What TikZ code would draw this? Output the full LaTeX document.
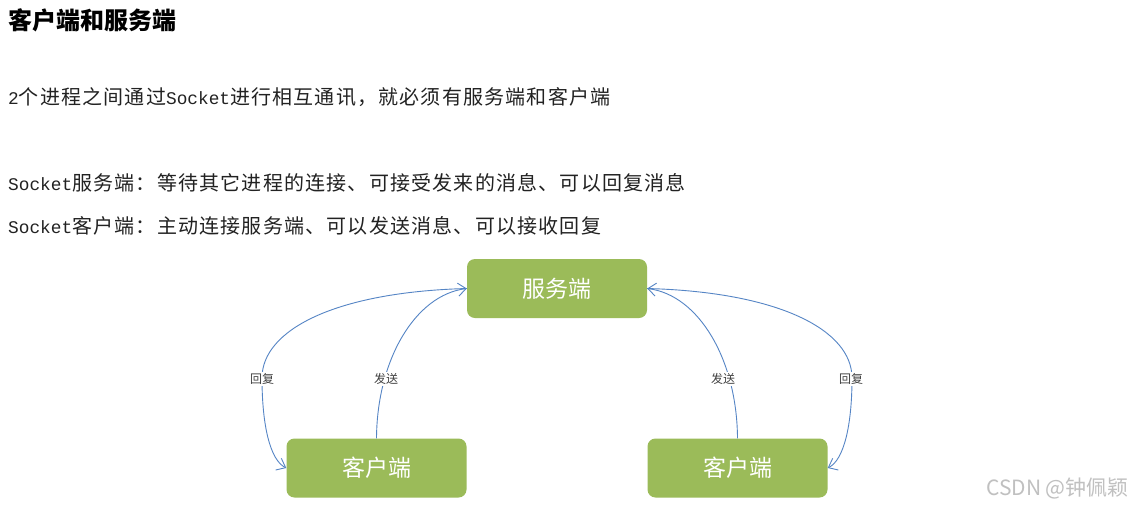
\documentclass[tikz,border=0pt]{standalone}
\usepackage{fontspec}
\usetikzlibrary{arrows.meta}
\setmainfont{Noto Sans CJK SC}
\newfontfamily\cj[LetterSpace=6]{Noto Sans CJK SC}
\newfontfamily\cjplain{Noto Sans CJK SC}
\newfontfamily\mo[Scale=0.89]{Liberation Mono}
\definecolor{boxgreen}{HTML}{9BBB59}
\definecolor{lineblue}{HTML}{5585C5}
\definecolor{labelgray}{HTML}{404040}
\definecolor{bodytext}{HTML}{222222}
\definecolor{wmgray}{HTML}{C0C0C0}
\tikzset{
  box/.style={draw=none, fill=boxgreen, rounded corners=8pt, minimum width=180pt, minimum height=59pt,
    text=white, font=\cjplain\fontsize{23}{26}\selectfont, inner sep=0pt},
  conn/.style={draw=lineblue, line width=0.9pt},
  arr/.style={conn, -{Straight Barb[length=8pt,width=13pt]}},
  lbl/.style={fill=white, text=labelgray, font=\cjplain\fontsize{12}{13}\selectfont, inner sep=1pt},
  bodyline/.style={anchor=west, inner sep=0pt, text=bodytext, font=\fontsize{20}{23}\selectfont},
}
\begin{document}
\begin{tikzpicture}[x=1pt,y=-1pt]
\useasboundingbox (0,0) rectangle (1132,509);
\fill[white] (0,0) rectangle (1132,509);

\node[anchor=west, inner sep=0pt, font=\cjplain\bfseries\fontsize{24}{28}\selectfont] (title) at (8,20) {客户端和服务端};
\node[bodyline] (l1) at (8,97) {\mo 2\cj 个进程之间通过\mo Socket\cj 进行相互通讯，就必须有服务端和客户端};
\node[bodyline] (l2) at (8,183) {\mo Socket\cj 服务端：等待其它进程的连接、可接受发来的消息、可以回复消息};
\node[bodyline] (l3) at (8,226) {\mo Socket\cj 客户端：主动连接服务端、可以发送消息、可以接收回复};

\node[box] (srv) at (557,288.5) {服务端};
\node[box] (c1) at (376.5,468) {客户端};
\node[box] (c2) at (737.5,468) {客户端};

% left side
\draw[arr] (c1.north) .. controls (377,360) and (415,295) .. (srv.west);
\coordinate (lm) at (262,378);
\draw[arr] (srv.west) .. controls (335,292) and (262,330) .. (lm)
   .. controls (262,425) and (270,460) .. (c1.west);
% right side
\draw[arr] (c2.north) .. controls (737,360) and (699,295) .. (srv.east);
\coordinate (rm) at (852,378);
\draw[arr] (srv.east) .. controls (779,292) and (852,330) .. (rm)
   .. controls (852,425) and (844,460) .. (c2.east);

\node[lbl] (lr) at (262,379) {回复};
\node[lbl] (ls) at (386,379) {发送};
\node[lbl] (rs) at (723,379) {发送};
\node[lbl] (rr) at (851,379) {回复};

\node[anchor=east, inner sep=0pt, text=wmgray, font=\cjplain\fontsize{21}{24}\selectfont] (wm) at (1129,489) {CSDN @钟佩颖};
\end{tikzpicture}
\end{document}
